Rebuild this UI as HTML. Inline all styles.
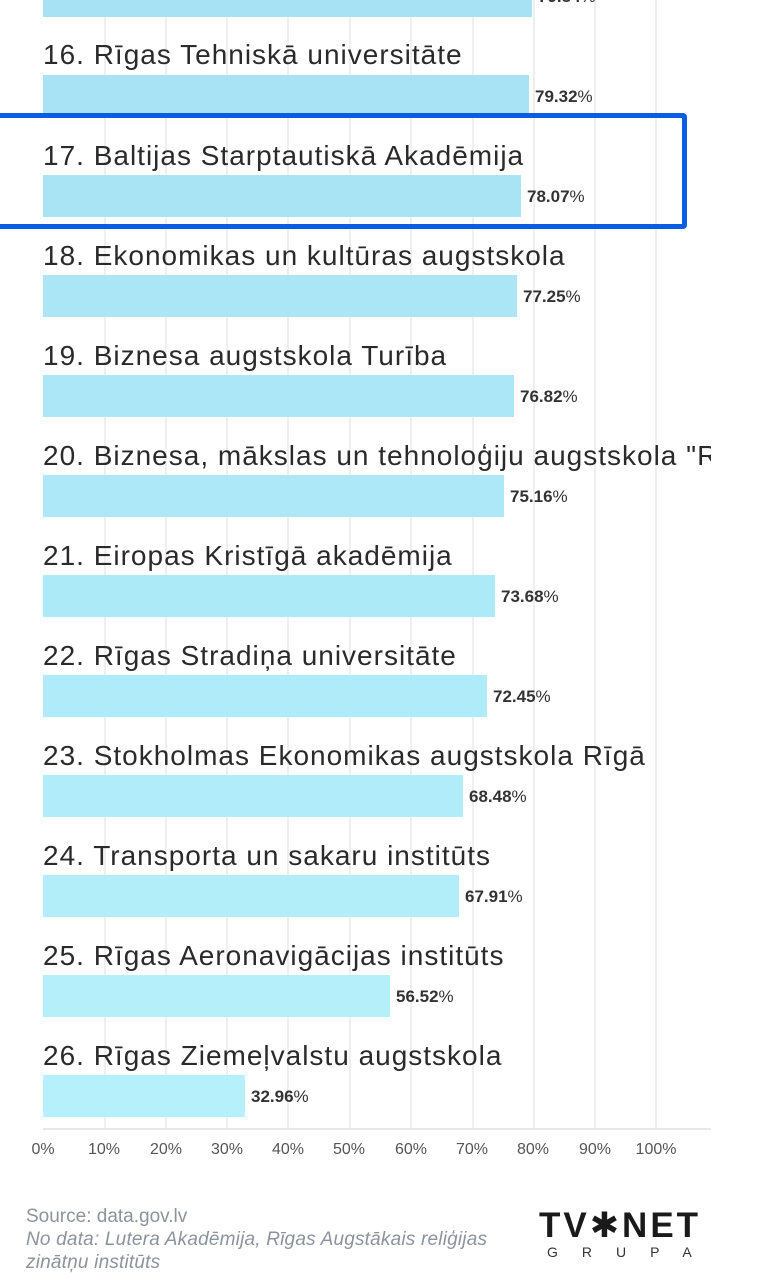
<!DOCTYPE html>
<html><head><meta charset="utf-8"><style>
html,body{margin:0;padding:0;background:#fff;}
body{width:760px;height:1280px;position:relative;overflow:hidden;font-family:"Liberation Sans","DejaVu Sans",sans-serif;}
.clip{position:absolute;left:0;top:0;width:711px;height:1135px;overflow:hidden;}
.g{position:absolute;top:0;width:2px;height:1130px;background:#efefef;}
.lbl{position:absolute;left:43px;font-size:28px;color:#2a2a2a;white-space:nowrap;line-height:30px;letter-spacing:1px;}
.bar{position:absolute;left:43px;height:42px;}
.val{position:absolute;font-size:17px;font-weight:bold;color:#333;line-height:18px;letter-spacing:0;}
.val span{font-weight:normal;}
.tick{position:absolute;top:1141px;font-size:16px;color:#555;transform:translateX(-50%);}
.foot{position:absolute;left:26px;font-size:19px;color:#8c939c;line-height:23px;}
</style></head><body>
<div class="clip">
<div class="g" style="left:104px"></div><div class="g" style="left:165px"></div><div class="g" style="left:226px"></div><div class="g" style="left:287px"></div><div class="g" style="left:349px"></div><div class="g" style="left:410px"></div><div class="g" style="left:472px"></div><div class="g" style="left:533px"></div><div class="g" style="left:594px"></div><div class="g" style="left:655px"></div>

<div class="bar" style="top:-25px;width:489px;background:#a7e2f4"></div>
<div class="val" style="left:538px;top:-12px">79.84<span>%</span></div>

<div class="lbl" style="top:40px">16. Rīgas Tehniskā universitāte</div>
<div class="bar" style="top:75px;width:486px;background:#a8e3f5"></div>
<div class="val" style="left:535px;top:88px">79.32<span>%</span></div>

<div class="lbl" style="top:141px">17. Baltijas Starptautiskā Akadēmija</div>
<div class="bar" style="top:175px;width:478px;background:#a9e4f5"></div>
<div class="val" style="left:527px;top:188px">78.07<span>%</span></div>

<div class="lbl" style="top:241px">18. Ekonomikas un kultūras augstskola</div>
<div class="bar" style="top:275px;width:474px;background:#aae6f6"></div>
<div class="val" style="left:523px;top:288px">77.25<span>%</span></div>

<div class="lbl" style="top:341px">19. Biznesa augstskola Turība</div>
<div class="bar" style="top:375px;width:471px;background:#abe7f6"></div>
<div class="val" style="left:520px;top:388px">76.82<span>%</span></div>

<div class="lbl" style="top:441px">20. Biznesa, mākslas un tehnoloģiju augstskola "RISEBA"</div>
<div class="bar" style="top:475px;width:461px;background:#ace8f7"></div>
<div class="val" style="left:510px;top:488px">75.16<span>%</span></div>

<div class="lbl" style="top:541px">21. Eiropas Kristīgā akadēmija</div>
<div class="bar" style="top:575px;width:452px;background:#adeaf7"></div>
<div class="val" style="left:501px;top:588px">73.68<span>%</span></div>

<div class="lbl" style="top:641px">22. Rīgas Stradiņa universitāte</div>
<div class="bar" style="top:675px;width:444px;background:#afebf8"></div>
<div class="val" style="left:493px;top:688px">72.45<span>%</span></div>

<div class="lbl" style="top:741px">23. Stokholmas Ekonomikas augstskola Rīgā</div>
<div class="bar" style="top:775px;width:420px;background:#b0ecf9"></div>
<div class="val" style="left:469px;top:788px">68.48<span>%</span></div>

<div class="lbl" style="top:841px">24. Transporta un sakaru institūts</div>
<div class="bar" style="top:875px;width:416px;background:#b2eef9"></div>
<div class="val" style="left:465px;top:888px">67.91<span>%</span></div>

<div class="lbl" style="top:941px">25. Rīgas Aeronavigācijas institūts</div>
<div class="bar" style="top:975px;width:347px;background:#b4effa"></div>
<div class="val" style="left:396px;top:988px">56.52<span>%</span></div>

<div class="lbl" style="top:1041px">26. Rīgas Ziemeļvalstu augstskola</div>
<div class="bar" style="top:1075px;width:202px;background:#b6f1fb"></div>
<div class="val" style="left:251px;top:1088px">32.96<span>%</span></div>

<div style="position:absolute;left:43px;top:1128px;width:668px;height:2px;background:#e8e8e8"></div>
</div>

<div style="position:absolute;left:-20px;top:113px;width:697px;height:106px;border:5px solid #0b5de3;border-radius:4px;"></div>

<div class="tick" style="left:43px">0%</div><div class="tick" style="left:104px">10%</div><div class="tick" style="left:166px">20%</div><div class="tick" style="left:227px">30%</div><div class="tick" style="left:288px">40%</div><div class="tick" style="left:349px">50%</div><div class="tick" style="left:411px">60%</div><div class="tick" style="left:472px">70%</div><div class="tick" style="left:533px">80%</div><div class="tick" style="left:595px">90%</div><div class="tick" style="left:656px">100%</div>

<div class="foot" style="top:1205px">Source: data.gov.lv</div>
<div class="foot" style="top:1228px;font-style:italic;letter-spacing:0.2px">No data: Lutera Akadēmija, Rīgas Augstākais reliģijas<br>zinātņu institūts</div>

<div style="position:absolute;left:539px;top:1209px;font-size:35px;font-weight:900;color:#1a1a1a;letter-spacing:3px;line-height:34px;">TV✱NET</div>
<div style="position:absolute;left:547px;top:1243px;font-size:14px;color:#333;letter-spacing:24px;line-height:18px;">GRUPA</div>
</body></html>
